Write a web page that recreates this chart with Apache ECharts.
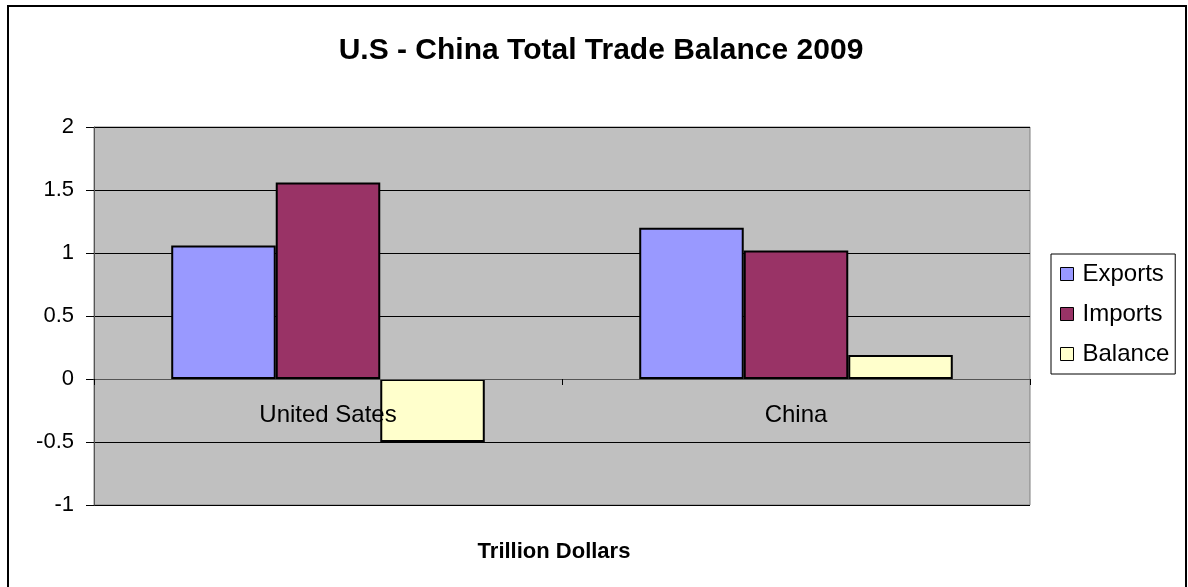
<!DOCTYPE html>
<html>
<head>
<meta charset="utf-8">
<script src="https://cdn.jsdelivr.net/npm/echarts@6/dist/echarts.min.js"></script>
<style>
html,body{margin:0;padding:0;background:#fff;}
#chart{width:1188px;height:587px;}
</style>
</head>
<body>
<div id="chart"></div>
<script>
const categories = ['United Sates', 'China'];
const exportsData = [1.06, 1.2];
const importsData = [1.56, 1.02];
const balanceData = [-0.5, 0.19];
const seriesNames = ['Exports', 'Imports', 'Balance'];
const seriesColors = ['#9999FF', '#993366', '#FFFFCC'];
const titleText = 'U.S - China Total Trade Balance 2009';
const xAxisTitle = 'Trillion Dollars';

const chart = echarts.init(document.getElementById('chart'));
const font = 'Liberation Sans, Arial, sans-serif';
const dataSets = [exportsData, importsData, balanceData];

chart.setOption({
  animation: false,
  backgroundColor: '#ffffff',
  title: [{
    text: titleText,
    left: 596, top: 31, textAlign: 'center',
    textStyle: {fontFamily: font, fontWeight: 'bold', fontSize: 30, color: '#000'}
  }, {
    text: xAxisTitle,
    left: 549, top: 536, textAlign: 'center',
    textStyle: {fontFamily: font, fontWeight: 'bold', fontSize: 22, color: '#000'}
  }],
  graphic: [{
    type: 'rect', silent: true, z: 100,
    shape: {x: 8, y: 6, width: 1178, height: 590},
    style: {fill: 'none', stroke: '#000', lineWidth: 2}
  }],
  legend: {
    orient: 'vertical',
    left: 1051, top: 254,
    padding: [8, 6, 8, 9],
    itemGap: 16,
    itemWidth: 13, itemHeight: 13,
    icon: 'rect',
    borderColor: '#000', borderWidth: 1,
    backgroundColor: '#fff',
    textStyle: {fontFamily: font, fontSize: 24, color: '#000', padding: [0, 0, 0, 4]},
    itemStyle: {borderColor: '#000', borderWidth: 1},
    data: seriesNames
  },
  grid: {
    left: 94, right: 158, top: 127, bottom: 82,
    show: true, backgroundColor: '#C0C0C0', borderColor: '#808080', borderWidth: 1
  },
  xAxis: {
    type: 'category',
    data: categories,
    z: 10,
    axisLine: {onZero: true, lineStyle: {color: '#555', width: 1}},
    axisTick: {show: true, length: 6, lineStyle: {color: '#000'}},
    axisLabel: {fontFamily: font, fontSize: 24, color: '#000', margin: -102},
    splitLine: {show: false}
  },
  yAxis: {
    type: 'value',
    min: -1, max: 2, interval: 0.5,
    axisLine: {show: true, lineStyle: {color: '#555'}},
    axisTick: {show: true, length: 8, lineStyle: {color: '#000'}},
    axisLabel: {fontFamily: font, fontSize: 22, color: '#000', margin: 20},
    splitLine: {show: true, lineStyle: {color: '#000', width: 1}}
  },
  series: seriesNames.map((n, i) => ({
    name: n,
    type: 'bar',
    data: dataSets[i],
    barGap: '0%',
    barCategoryGap: '33%',
    itemStyle: {color: seriesColors[i], borderColor: '#000', borderWidth: 2}
  }))
});
</script>
</body>
</html>
